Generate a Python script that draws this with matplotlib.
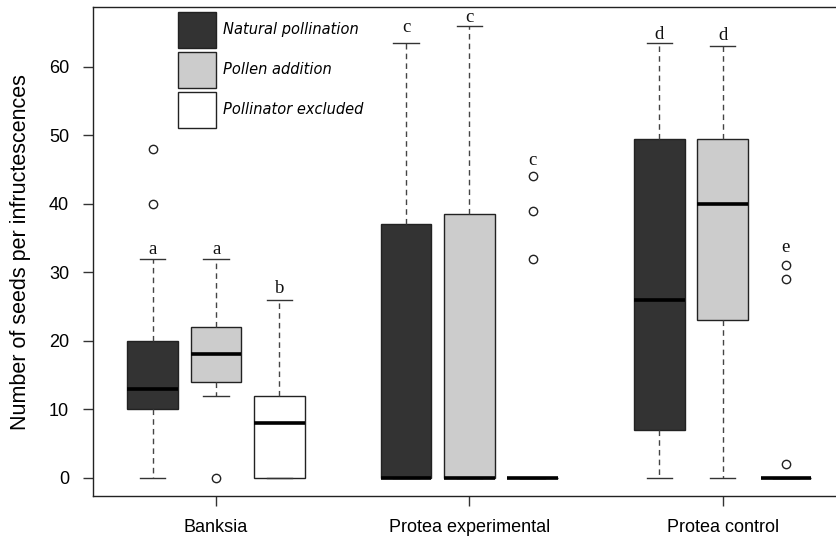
import matplotlib.pyplot as plt
from matplotlib.patches import Patch

groups = ['Banksia', 'Protea experimental', 'Protea control']
treatments = ['Natural pollination', 'Pollen addition', 'Pollinator excluded']
fills = ['#333333', '#cccccc', '#ffffff']

# box order: Banksia x3, Protea experimental x3, Protea control x3
positions = [1, 2, 3, 5, 6, 7, 9, 10, 11]
whisker_low = [0, 12, 0, 0, 0, 0, 0, 0, 0]
q1 = [10, 14, 0, 0, 0, 0, 7, 23, 0]
medians = [13, 18, 8, 0, 0, 0, 26, 40, 0]
q3 = [20, 22, 12, 37, 38.5, 0, 49.5, 49.5, 0]
whisker_high = [32, 32, 26, 63.4, 66, 0, 63.4, 63, 0]
outliers = [[40, 48], [0], [], [], [], [32, 39, 44], [], [], [2, 29, 31]]

# significance letters
letters = ['a', 'a', 'b', 'c', 'c', 'c', 'd', 'd', 'e']
letter_y = [32.7, 32.7, 27.0, 65.0, 66.5, 45.6, 64.1, 63.9, 32.9]

stats = []
for lo, a, m, b, hi, fl in zip(whisker_low, q1, medians, q3, whisker_high, outliers):
    stats.append(dict(whislo=lo, q1=a, med=m, q3=b, whishi=hi, fliers=fl))

fig = plt.figure(figsize=(8.37, 5.4), dpi=100)
# right edge of the frame lies outside the picture, as in the original
ax = fig.add_axes([93.3 / 837, 1 - 496 / 540, (845.4 - 93.3) / 837, (496 - 7.3) / 540])

res = ax.bxp(stats, positions=positions, widths=0.8, capwidths=0.4,
             patch_artist=True,
             boxprops=dict(edgecolor='#222222', linewidth=1),
             medianprops=dict(color='black', linewidth=2.6, solid_capstyle='butt'),
             whiskerprops=dict(color='#444444', linestyle=(0, (4, 3)), linewidth=1),
             capprops=dict(color='#333333', linewidth=1),
             flierprops=dict(marker='o', markerfacecolor='none', markeredgecolor='#222222',
                             markersize=6, markeredgewidth=1))
for patch, c in zip(res['boxes'], fills * 3):
    patch.set_facecolor(c)

for x, y, s in zip(positions, letter_y, letters):
    ax.text(x, y, s, ha='center', va='baseline', fontsize=13.5,
            family='Liberation Serif', color='#111111')

ax.set_xlim(0.06, 11.94)
ax.set_ylim(-2.67, 68.67)
ax.set_xticks([2, 6, 10])
ax.set_xticklabels(groups, fontsize=13, family='Liberation Sans')
ax.set_yticks(range(0, 61, 10))
ax.set_yticklabels([str(v) for v in range(0, 61, 10)], fontsize=13, family='Liberation Sans')
ax.tick_params(axis='both', length=7.5, width=1, color='#333333')
ax.tick_params(axis='y', pad=10)
ax.tick_params(axis='x', pad=9)
ax.set_ylabel('Number of seeds per infructescences', fontsize=15.5,
              family='Liberation Sans', labelpad=13)
for sp in ax.spines.values():
    sp.set_color('#222222')
    sp.set_linewidth(1)

handles = [Patch(facecolor=c, edgecolor='#222222', linewidth=1) for c in fills]
ax.legend(handles, treatments, loc='upper left', bbox_to_anchor=(178 / 837, 1 - 11.7 / 540),
          bbox_transform=fig.transFigure, frameon=False, borderpad=0, borderaxespad=0,
          handleheight=3.42, handlelength=2.63, labelspacing=0.27, handletextpad=0.46,
          prop=dict(family='DejaVu Sans', style='italic', size=10.5))

fig.savefig('out.png', dpi=100)
